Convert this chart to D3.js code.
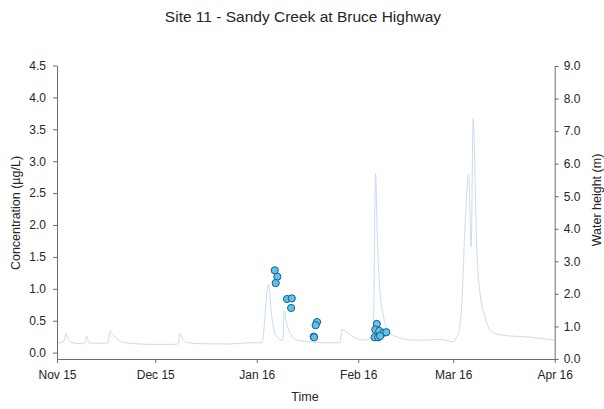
<!DOCTYPE html>
<html>
<head>
<meta charset="utf-8">
<script src="https://cdn.jsdelivr.net/npm/d3@7"></script>
<style>
  html, body { margin: 0; padding: 0; background: #fff; }
  svg { display: block; font-family: Arial, "Liberation Sans", sans-serif; }
</style>
</head>
<body>
<svg id="chart" width="604" height="409"></svg>
<script>
// ---- Data ----
const title = "Site 11 - Sandy Creek at Bruce Highway";
const monthTicks = ["2015-11-01", "2015-12-01", "2016-01-01", "2016-02-01", "2016-03-01", "2016-04-01"];
const concTicks = [0, 0.5, 1.0, 1.5, 2.0, 2.5, 3.0, 3.5, 4.0, 4.5];
const heightTicks = [0, 1, 2, 3, 4, 5, 6, 7, 8, 9];

// Water height (m) time series
const heightDates = [
  "2015-11-01 00", "2015-11-01 22", "2015-11-03 02", "2015-11-03 18", "2015-11-04 10", "2015-11-05 14",
  "2015-11-08 00", "2015-11-09 13", "2015-11-10 00", "2015-11-10 19", "2015-11-14 02", "2015-11-16 14",
  "2015-11-17 05", "2015-11-18 02", "2015-11-19 14", "2015-11-21 19", "2015-11-24 19", "2015-11-29 10",
  "2015-12-07 00", "2015-12-08 00", "2015-12-08 14", "2015-12-09 12", "2015-12-11 00", "2015-12-14 17",
  "2015-12-23 19", "2015-12-30 00", "2016-01-02 14", "2016-01-04 14", "2016-01-05 14", "2016-01-07 02",
  "2016-01-09 00", "2016-01-09 10", "2016-01-09 22", "2016-01-11 05", "2016-01-13 05", "2016-01-17 07",
  "2016-01-21 05", "2016-01-26 10", "2016-01-27 00", "2016-01-29 12", "2016-02-02 12", "2016-02-04 14",
  "2016-02-05 14", "2016-02-06 07", "2016-02-06 19", "2016-02-07 05", "2016-02-07 17", "2016-02-08 17",
  "2016-02-10 17", "2016-02-13 19", "2016-02-16 19", "2016-02-22 00", "2016-02-26 00", "2016-03-01 00",
  "2016-03-02 02", "2016-03-02 14", "2016-03-03 14", "2016-03-04 14", "2016-03-05 17", "2016-03-06 12",
  "2016-03-07 02", "2016-03-08 05", "2016-03-09 05", "2016-03-10 17", "2016-03-12 07", "2016-03-15 07",
  "2016-03-24 12", "2016-04-01 00"
];
const heightValues = [
  0.48, 0.50, 0.55, 0.77, 0.60, 0.50,
  0.47, 0.50, 0.70, 0.50, 0.48, 0.50,
  0.85, 0.75, 0.60, 0.50, 0.47, 0.45,
  0.45, 0.47, 0.79, 0.60, 0.50, 0.47,
  0.46, 0.50, 0.50, 2.30, 1.30, 0.68,
  0.58, 1.50, 1.20, 0.79, 0.58, 0.53,
  0.50, 0.50, 0.91, 0.74, 0.58, 0.62,
  0.80, 5.70, 3.90, 2.80, 2.00, 1.30,
  0.79, 0.65, 0.58, 0.58, 0.60, 0.53,
  0.68, 0.79, 1.60, 4.00, 5.67, 3.44,
  7.38, 3.34, 2.00, 1.30, 0.89, 0.74,
  0.67, 0.58
];

// Concentration (µg/L) samples
const concDates = [
  "2016-01-06 12", "2016-01-07 07", "2016-01-06 19",
  "2016-01-10 06", "2016-01-11 17", "2016-01-11 12",
  "2016-01-19 10", "2016-01-19 00", "2016-01-18 10", "2016-01-18 12",
  "2016-02-06 16", "2016-02-06 05", "2016-02-07 10", "2016-02-08 17",
  "2016-02-09 14", "2016-02-06 00", "2016-02-07 02", "2016-02-07 17"
];
const concValues = [
  1.29, 1.19, 1.09,
  0.84, 0.85, 0.70,
  0.48, 0.43, 0.25, 0.24,
  0.45, 0.36, 0.34, 0.31,
  0.32, 0.24, 0.24, 0.26
];

// ---- Chart ----
(function () {
const parse = d3.timeParse("%Y-%m-%d %H");
const parseDay = d3.timeParse("%Y-%m-%d");
const heightData = heightDates.map((d, i) => ({ date: parse(d), h: heightValues[i] }));
const concData = concDates.map((d, i) => ({ date: parse(d), c: concValues[i] }));
const tickDates = monthTicks.map(parseDay);

const svg = d3.select("#chart");
const mLeft = 57, mRight = 554.7, mTop = 65.5, mBottom = 359;

const x = d3.scaleTime().domain([tickDates[0], tickDates[tickDates.length - 1]]).range([mLeft, mRight]);
const yL = d3.scaleLinear().domain([-0.1, 4.5]).range([mBottom, mTop]);
const yR = d3.scaleLinear().domain([0, 9]).range([mBottom, mTop + 0.5]);

const axisColor = "#6e6e6e";
const textColor = "#262626";

// Water height line
svg.append("path")
  .datum(heightData)
  .attr("fill", "none")
  .attr("stroke", "#c9dcf2")
  .attr("stroke-width", 1)
  .attr("d", d3.line().x(d => x(d.date)).y(d => yR(d.h)).curve(d3.curveMonotoneX));

// Concentration points
svg.append("g").selectAll("circle")
  .data(concData)
  .join("circle")
  .attr("cx", d => x(d.date))
  .attr("cy", d => yL(d.c))
  .attr("r", 3.6)
  .attr("fill", "#5ec3ea")
  .attr("stroke", "#1d5d86")
  .attr("stroke-width", 1);

function styleAxis(g) {
  g.selectAll("path.domain").attr("stroke", axisColor);
  g.selectAll(".tick line").attr("stroke", axisColor);
  g.selectAll(".tick text").attr("fill", textColor).style("font-size", "12px")
    .style("font-family", "Arial, 'Liberation Sans', sans-serif");
}

// Bottom axis
svg.append("g")
  .attr("transform", `translate(0,${mBottom})`)
  .call(d3.axisBottom(x).tickValues(tickDates).tickFormat(d3.timeFormat("%b %y")).tickSize(4).tickSizeOuter(0).tickPadding(7))
  .call(styleAxis);

// Left axis
svg.append("g")
  .attr("transform", `translate(${mLeft},0)`)
  .call(d3.axisLeft(yL).tickValues(concTicks).tickFormat(d3.format(".1f")).tickSize(4).tickSizeOuter(0).tickPadding(7))
  .call(styleAxis);

// Right axis
svg.append("g")
  .attr("transform", `translate(${mRight},0)`)
  .call(d3.axisRight(yR).tickValues(heightTicks).tickFormat(d3.format(".1f")).tickSize(4).tickSizeOuter(0).tickPadding(5))
  .call(styleAxis);

// Titles
svg.append("text")
  .attr("x", 303).attr("y", 22)
  .attr("text-anchor", "middle")
  .attr("fill", textColor)
  .style("font-size", "15.5px")
  .text(title);

svg.append("text")
  .attr("x", 305).attr("y", 401)
  .attr("text-anchor", "middle")
  .attr("fill", textColor)
  .style("font-size", "12.5px")
  .text("Time");

svg.append("text")
  .attr("transform", "translate(20,213) rotate(-90)")
  .attr("text-anchor", "middle")
  .attr("fill", textColor)
  .style("font-size", "12.5px")
  .text("Concentration (µg/L)");

svg.append("text")
  .attr("transform", "translate(601,200) rotate(-90)")
  .attr("text-anchor", "middle")
  .attr("fill", textColor)
  .style("font-size", "12.5px")
  .text("Water height (m)");
})();
</script>
</body>
</html>
